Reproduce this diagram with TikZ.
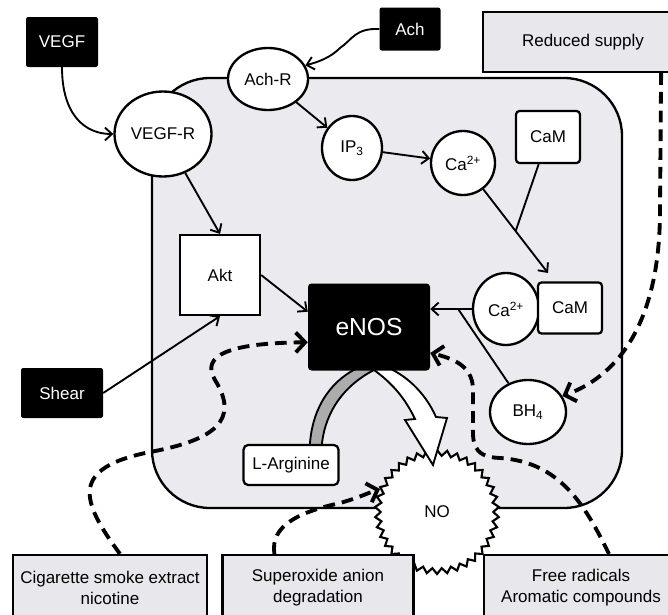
\documentclass[tikz,border=0pt]{standalone}
\usepackage{fontspec}
\setmainfont{Liberation Sans}
\usetikzlibrary{shapes.geometric,arrows.meta,calc}

\newlength\pxunit
\pxunit=0.03cm

\definecolor{cellfill}{RGB}{234,234,239}
\definecolor{boxfill}{RGB}{232,232,236}
\definecolor{bandgray}{RGB}{172,172,172}

\tikzset{
  blk/.style={rectangle, rounded corners=2pt, fill=black, text=white},
  factor/.style={rectangle, draw, line width=1.9pt, fill=boxfill, align=center},
  mol/.style={ellipse, draw, line width=2pt, fill=white, inner sep=0pt},
  molbox/.style={rectangle, draw, line width=1.9pt, fill=white, rounded corners=3pt},
  arr/.style={line width=1.6pt, -{Straight Barb[length=6pt,width=11pt]}},
  darr/.style={line width=3.3pt, dash pattern=on 10pt off 6pt, -{Straight Barb[length=8pt,width=17pt]}}
}

\begin{document}
\begin{tikzpicture}[x=0.03cm, y=-0.03cm, font=\fontsize{14.5}{18}\selectfont]
  \useasboundingbox (0,0) rectangle (668,615);
  \clip (0,0) rectangle (668,615);

  \draw[line width=2pt, fill=cellfill, rounded corners=58\pxunit] (152,78) rectangle (622,508);

  \node[star, star points=38, star point ratio=1.1, minimum size=124\pxunit, inner sep=0pt,
        draw, line width=1.8pt, fill=white] (no) at (437,512) {NO};

  \filldraw[line width=1.6pt, fill=bandgray] (310,450) -- (310,443) .. controls (313,405) and (333,378) .. (362,366)
    -- (374,370) .. controls (345,385) and (326,410) .. (322,443) -- (322,450) -- cycle;
  \filldraw[line width=1.6pt, fill=white] (384,366) .. controls (405,374) and (425,392) .. (436,417)
    -- (447,418) -- (433,465) -- (405,420) -- (415,419) .. controls (405,398) and (392,383) .. (374,370) -- cycle;

  \node[blk, minimum width=72\pxunit, minimum height=50\pxunit] (vegf) at (62,42) {VEGF};
  \node[blk, minimum width=61\pxunit, minimum height=43\pxunit] (ach) at (410,29) {Ach};
  \node[blk, minimum width=82\pxunit, minimum height=50\pxunit] (shear) at (62,393) {Shear};
  \node[blk, rounded corners=3pt, minimum width=122\pxunit, minimum height=87\pxunit,
        font=\fontsize{21}{24}\selectfont] (enos) at (369,327) {eNOS};

  \node[factor, minimum width=200\pxunit, minimum height=60\pxunit] (supply) at (583,42) {Reduced supply};
  \node[factor, minimum width=194\pxunit, minimum height=66\pxunit] (cig) at (110,588) {Cigarette smoke extract\\nicotine};
  \node[factor, minimum width=191\pxunit, minimum height=66\pxunit] (sup) at (318,588) {Superoxide anion\\degradation};
  \node[factor, minimum width=194\pxunit, minimum height=66\pxunit] (free) at (581,588) {Free radicals\\Aromatic compounds};

  \node[mol, minimum width=80\pxunit, minimum height=62\pxunit] (achr) at (268,79) {Ach-R};
  \node[mol, minimum width=97\pxunit, minimum height=85\pxunit] (vegfr) at (163,134) {VEGF-R};
  \node[mol, minimum width=60\pxunit, minimum height=64\pxunit] (ip3) at (352,148) {IP\textsubscript{3}};
  \node[mol, minimum width=64\pxunit, minimum height=64\pxunit] (ca1) at (463,163) {Ca\textsuperscript{2+}};
  \node[mol, minimum width=66\pxunit, minimum height=72\pxunit] (ca2) at (506,309) {Ca\textsuperscript{2+}};
  \node[mol, minimum width=76\pxunit, minimum height=64\pxunit] (bh4) at (528,412) {BH\textsubscript{4}};

  \node[molbox, minimum width=64\pxunit, minimum height=52\pxunit] (cam1) at (548,137) {CaM};
  \node[molbox, minimum width=64\pxunit, minimum height=51\pxunit] (cam2) at (570,308) {CaM};
  \node[molbox, rounded corners=4pt, minimum width=95\pxunit, minimum height=40\pxunit] (larg) at (291,465) {L-Arginine};
  \node[rectangle, draw, line width=1.9pt, fill=white, minimum width=80\pxunit, minimum height=80\pxunit] (akt) at (220,275) {Akt};

  \coordinate (cplx) at (548,273);

  \draw[arr] (vegf.south) .. controls (62,115) and (85,134) .. (vegfr.west);
  \draw[arr] (ach.west) .. controls (355,28) and (352,40) .. (340,48) .. controls (330,58) and (318,62) .. (achr.20);
  \draw[arr] (achr) -- (ip3);
  \draw[arr] (ip3) -- (ca1);
  \draw[arr] (ca1) -- coordinate[pos=0.5] (join) (cplx);
  \draw[line width=1.6pt] (cam1) -- (join);
  \draw[arr] (vegfr) -- (akt.north);
  \draw[arr] (akt.east) -- (enos.166);
  \draw[arr] (shear.east) -- (akt.south);
  \draw[arr] (ca2.west) -- coordinate[pos=0.33] (bhjoin) (enos.east |- ca2.west);
  \draw[line width=1.6pt] (bh4) -- (bhjoin);

  \draw[darr] ($(supply.south east)+(-23,0)$) -- (660,210) .. controls (660,320) and (620,375) .. (bh4.25);
  \draw[darr] ($(cig.north)+(10,0)$) .. controls (80,500) and (70,468) .. (150,452)
    .. controls (215,440) and (240,420) .. (215,380) .. controls (200,355) and (230,343) .. (enos.194);
  \draw[darr] ($(sup.north west)+(53,0)$) .. controls (270,525) and (300,512) .. (340,503)
    .. controls (358,498) and (368,493) .. (no.158);
  \draw[darr] ($(free.north)+(28,0)$) .. controls (585,505) and (560,462) .. (500,458)
    .. controls (470,457) and (473,440) .. (473,420) -- (473,390) .. controls (473,370) and (460,360) .. (enos.-23);
\end{tikzpicture}
\end{document}
